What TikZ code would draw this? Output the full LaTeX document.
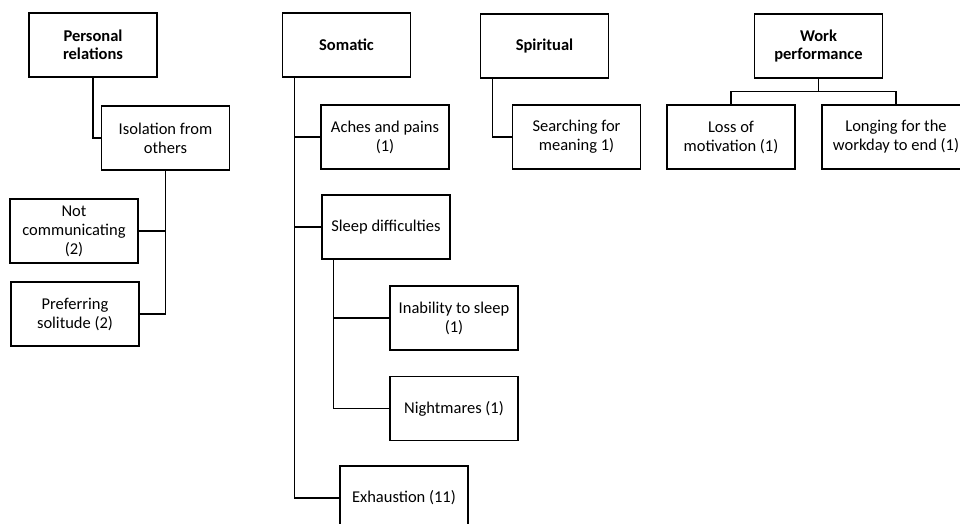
\documentclass[tikz,border=0pt]{standalone}
\usepackage{fontspec}
\setmainfont{Carlito}
\usetikzlibrary{calc}
\tikzset{
  catbox/.style={draw,line width=1.6pt,minimum width=128,minimum height=64,align=center,font=\fontsize{16.5}{18.5}\selectfont\bfseries,inner sep=1pt},
  itembox/.style={draw,line width=1.6pt,minimum width=128,minimum height=64,align=center,font=\fontsize{16.5}{19}\selectfont,inner sep=1pt},
  link/.style={line width=1.4pt}
}
\begin{document}
\begin{tikzpicture}[x=1pt,y=-1pt]
\useasboundingbox (0,0) rectangle (960,524);

% categories
\node[catbox] (pers) at (93,45) {Personal\\relations};
\node[catbox] (soma) at (346.5,45) {Somatic};
\node[catbox] (spir) at (544.5,46) {Spiritual};
\node[catbox] (work) at (818.5,46) {Work\\performance};

% personal relations
\node[itembox] (isol) at (165.5,138) {Isolation from\\others};
\node[itembox] (ncom) at (74,231) {Not\\communicating\\(2)};
\node[itembox] (pref) at (75,314) {Preferring\\solitude (2)};

% somatic
\node[itembox] (ache) at (385,137) {Aches and pains\\(1)};
\node[itembox] (slee) at (386,227) {Sleep difficulties};
\node[itembox] (inab) at (454,318) {Inability to sleep\\(1)};
\node[itembox] (nigh) at (454,408.5) {Nightmares (1)};
\node[itembox] (exha) at (404,498) {Exhaustion (11)};

% spiritual
\node[itembox] (sear) at (576.5,137) {Searching for\\meaning 1)};

% work performance
\node[itembox] (loss) at (731,137) {Loss of\\motivation (1)};
\node[itembox,minimum width=148] (long) at (896,137) {Longing for the\\workday to end (1)};

% connectors
\draw[link] (pers.south) |- (isol.west);
\draw[link] (isol.south) |- (ncom.east);
\draw[link] (isol.south) |- (pref.east);

\coordinate (somastem) at ($(soma.south west)+(13,0)$);
\draw[link] (somastem) |- (ache.west);
\draw[link] (somastem) |- (slee.west);
\draw[link] (somastem) |- (exha.west);

\coordinate (sleestem) at ($(slee.south west)+(12,0)$);
\draw[link] (sleestem) |- (inab.west);
\draw[link] (sleestem) |- (nigh.west);

\coordinate (spirstem) at ($(spir.south west)+(13,0)$);
\draw[link] (spirstem) |- (sear.west);

\coordinate (workbus) at ($(work.south)+(0,13)$);
\draw[link] (work.south) -- (workbus) -| (loss.north);
\draw[link] (workbus) -| (long.north);
\end{tikzpicture}
\end{document}
